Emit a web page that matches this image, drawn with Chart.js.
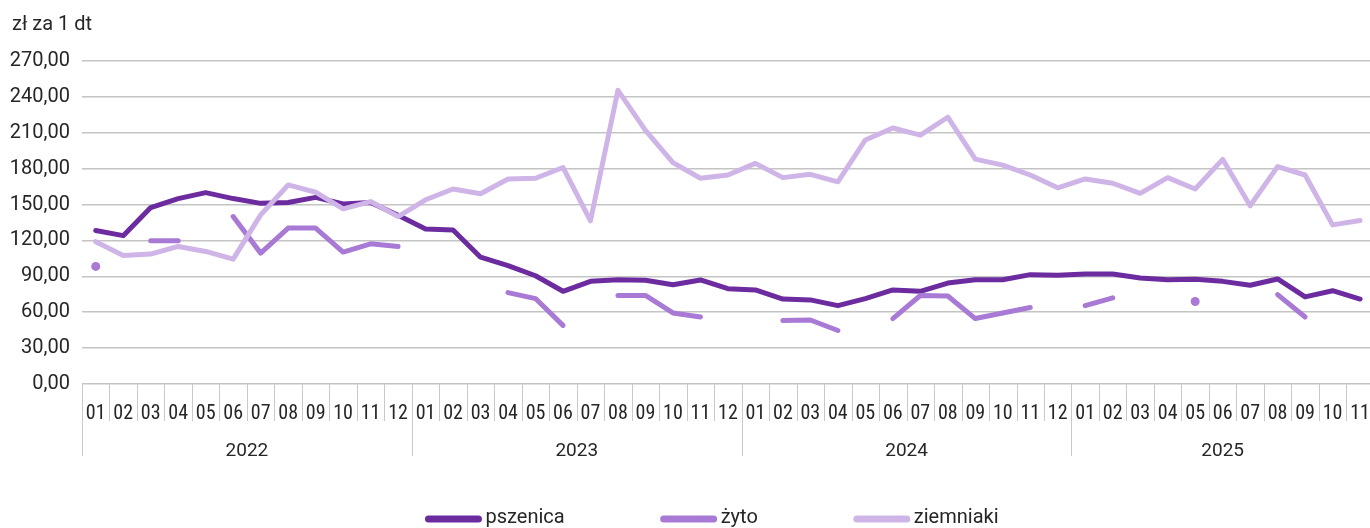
<!DOCTYPE html>
<html lang="pl">
<head>
<meta charset="utf-8">
<title>Ceny skupu</title>
<script src="https://cdn.jsdelivr.net/npm/chart.js@4.4.1/dist/chart.umd.min.js"></script>
<style>
  html, body { margin: 0; padding: 0; background: #fff; overflow: hidden; }
  #wrap { position: relative; width: 1380px; height: 528px; }
</style>
</head>
<body>
<div id="wrap"><canvas id="price-chart"></canvas></div>
<script>
// Month labels 2022-01 .. 2025-11
const months = [
  '01','02','03','04','05','06','07','08','09','10','11','12',
  '01','02','03','04','05','06','07','08','09','10','11','12',
  '01','02','03','04','05','06','07','08','09','10','11','12',
  '01','02','03','04','05','06','07','08','09','10','11'
];
const years = ['2022', '2023', '2024', '2025'];

const pszenica = [
  128.3, 124.0, 147.5, 155.0, 160.0, 155.0, 151.0, 151.7, 156.0, 150.5, 151.7, 141.0,
  129.5, 128.7, 106.0, 99.0, 90.5, 77.5, 85.8, 87.2, 86.7, 83.0, 87.0, 79.7,
  78.6, 71.0, 70.3, 65.5, 71.4, 78.6, 77.5, 84.4, 87.2, 87.2, 91.4, 91.0,
  92.0, 92.0, 88.6, 87.2, 87.5, 85.8, 82.5, 87.8, 72.8, 78.0, 71.0
];
const zyto = [
  98.3, null, 119.7, 119.7, null, 140.0, 109.4, 130.3, 130.3, 110.3, 117.2, 115.0,
  null, null, null, 76.4, 71.4, 49.0, null, 74.0, 74.0, 59.4, 56.0, null,
  null, 53.0, 53.5, 44.7, null, 54.7, 74.0, 73.6, 54.7, 59.4, 64.0, null,
  65.5, 72.0, null, null, 69.0, null, null, 74.7, 56.0, null, null
];
const ziemniaki = [
  119.0, 107.5, 108.6, 115.0, 110.8, 104.4, 141.4, 166.4, 160.3, 146.4, 152.5, 140.0,
  154.0, 163.0, 159.0, 171.4, 172.0, 181.0, 136.4, 245.5, 212.0, 185.0, 172.0, 174.7,
  184.4, 172.5, 175.3, 169.0, 204.0, 214.0, 208.0, 223.0, 188.0, 183.0, 174.7, 164.0,
  171.4, 167.8, 159.4, 172.5, 163.0, 187.8, 149.0, 181.7, 174.7, 133.0, 136.7
];

const TEXT = '#262626';
const FONT = 'Roboto, "Noto Sans", sans-serif';
const NARROW = '"Liberation Sans Narrow", "Roboto Condensed", Roboto, sans-serif';

// show a dot only where a value stands alone between gaps
function lonePoint(ctx) {
  const d = ctx.dataset.data;
  const i = ctx.dataIndex;
  return d[i] != null && d[i - 1] == null && d[i + 1] == null ? 4.5 : 0;
}

function line(label, data, color, order) {
  return {
    label, data, order,
    borderColor: color,
    backgroundColor: color,
    borderWidth: 5,
    borderCapStyle: 'round',
    borderJoinStyle: 'round',
    pointRadius: lonePoint,
    pointHoverRadius: lonePoint,
    pointBorderWidth: 0,
    spanGaps: false,
    tension: 0,
  };
}

// month separators, year labels, title and legend
const axisDecor = {
  id: 'axisDecor',
  afterDraw(chart) {
    const { ctx, chartArea, scales: { x } } = chart;
    const top = chartArea.bottom;
    ctx.save();

    ctx.strokeStyle = '#c9c9c9';
    ctx.lineWidth = 1;
    for (let k = 0; k <= months.length; k++) {
      const px = Math.round(x.getPixelForValue(k - 0.5)) + 0.5;
      ctx.beginPath();
      ctx.moveTo(px, top);
      ctx.lineTo(px, top + (k % 12 === 0 ? 72 : 37));
      ctx.stroke();
    }

    ctx.fillStyle = TEXT;
    ctx.font = '19px ' + FONT;
    ctx.textAlign = 'center';
    ctx.textBaseline = 'middle';
    years.forEach((y, j) => {
      const a = x.getPixelForValue(j * 12 - 0.5);
      const b = x.getPixelForValue(Math.min(j * 12 + 11, months.length - 1) + 0.5);
      ctx.fillText(y, (a + b) / 2, top + 67);
    });

    ctx.textAlign = 'left';
    ctx.font = '20px ' + FONT;
    ctx.fillText('zł za 1 dt', 12, 25);

    // legend
    const items = chart.data.datasets.slice().sort((p, q) => p.legendPos - q.legendPos);
    const gap = 96, sw = 56;
    const widths = items.map(d => sw + 4 + ctx.measureText(d.label).width);
    const total = widths.reduce((s, w) => s + w, 0) + gap * (items.length - 1);
    let lx = 712 - total / 2;
    const ly = 518;
    items.forEach((d, i) => {
      ctx.strokeStyle = d.borderColor;
      ctx.lineWidth = 7;
      ctx.lineCap = 'round';
      ctx.beginPath();
      ctx.moveTo(lx + 3, ly + 1);
      ctx.lineTo(lx + sw - 3, ly + 1);
      ctx.stroke();
      ctx.fillStyle = TEXT;
      ctx.fillText(d.label, lx + sw + 4, ly);
      lx += widths[i] + gap;
    });

    ctx.restore();
  }
};

const datasets = [
  line('pszenica', pszenica, '#6c2c9f', 2),
  line('żyto', zyto, '#a87ad5', 1),
  line('ziemniaki', ziemniaki, '#cfb5e7', 0),
];
datasets.forEach((d, i) => { d.legendPos = i; });

new Chart(document.getElementById('price-chart'), {
  type: 'line',
  data: { labels: months, datasets },
  plugins: [axisDecor],
  options: {
    responsive: true,
    maintainAspectRatio: false,
    animation: false,
    layout: { padding: { top: 61, right: 2, bottom: 0, left: 0 } },
    plugins: {
      legend: { display: false },
      tooltip: { enabled: false },
    },
    scales: {
      x: {
        offset: true,
        grid: { display: false },
        border: { display: false },
        ticks: {
          color: TEXT,
          font: { family: NARROW, size: 20 },
          padding: 10,
          autoSkip: false,
          maxRotation: 0,
        },
        afterFit: (s) => { s.height = 144; },
      },
      y: {
        min: 0,
        max: 270,
        border: { display: false },
        grid: { color: '#c4c4c4', lineWidth: 1.5, drawTicks: false },
        ticks: {
          stepSize: 30,
          color: TEXT,
          font: { family: FONT, size: 20 },
          padding: 12,
          callback: (v) => v.toFixed(2).replace('.', ','),
        },
        afterFit: (s) => { s.width = 82; },
      }
    }
  }
});
</script>
</body>
</html>
